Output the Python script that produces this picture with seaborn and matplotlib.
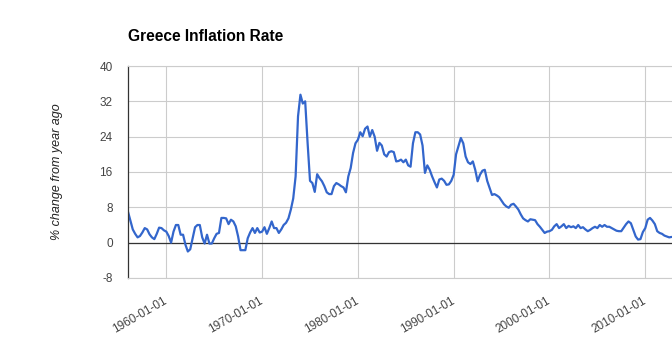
import pandas as pd
import matplotlib
matplotlib.use("Agg")
import matplotlib.pyplot as plt
import matplotlib.transforms as mtransforms
import seaborn as sns

# Quarterly year-over-year CPI change (%), grouped by decade
infl_1950s = [7.0, 5.0, 3.0, 2.0,
              1.2, 1.5, 2.3, 3.3,
              3.0, 1.9, 1.2, 0.8,
              2.0, 3.4, 3.3, 2.8]
infl_1960s = [2.5, 1.5, 0.0, 2.5,
              4.0, 4.0, 1.8, 1.8,
              -0.5, -2.0, -1.5, 1.0,
              3.5, 4.0, 4.0, 1.2,
              -0.2, 1.8, -0.2, -0.2,
              1.0, 2.0, 2.2, 5.6,
              5.6, 5.5, 4.2, 5.2,
              4.8, 3.7, 1.4, -1.7,
              -1.7, -1.7, 1.0, 2.3,
              3.3, 2.2, 3.3, 2.3]
infl_1970s = [2.5, 3.5, 2.0, 3.3,
              4.8, 3.3, 3.3, 2.2,
              3.0, 4.0, 4.5, 5.5,
              7.5, 10.0, 15.0, 28.6,
              33.5, 31.5, 32.0, 22.6,
              14.0, 13.5, 11.5, 15.5,
              14.6, 13.9, 12.8, 11.4,
              11.0, 11.0, 12.8, 13.5,
              13.2, 12.8, 12.5, 11.4,
              15.0, 16.9, 20.3, 22.5]
infl_1980s = [23.3, 25.0, 24.1, 25.8,
              26.3, 24.0, 25.5, 24.0,
              20.8, 22.6, 22.0, 20.0,
              19.5, 20.5, 20.7, 20.5,
              18.4, 18.5, 18.8, 18.2,
              18.8, 17.5, 17.2, 22.5,
              25.0, 25.0, 24.5, 22.0,
              15.8, 17.5, 16.5, 15.0,
              13.7, 12.5, 14.3, 14.5,
              14.0, 13.1, 13.2, 14.0]
infl_1990s = [15.4, 20.0, 21.8, 23.7,
              22.5, 19.5, 18.2, 17.8,
              18.4, 16.5, 13.9, 15.4,
              16.3, 16.5, 14.0, 12.4,
              10.8, 11.0, 10.7, 10.3,
              9.5, 8.7, 8.2, 7.9,
              8.6, 8.8, 8.2, 7.5,
              6.4, 5.5, 5.1, 4.8,
              5.3, 5.2, 5.1, 4.2,
              3.6, 2.9, 2.2, 2.5]
infl_2000s = [2.6, 2.9, 3.7, 4.2,
              3.3, 3.7, 4.2, 3.3,
              3.8, 3.5, 3.7, 3.3,
              4.0, 3.3, 3.5, 3.0,
              2.6, 2.9, 3.3, 3.6,
              3.3, 4.0, 3.6, 4.0,
              3.6, 3.6, 3.3, 3.0,
              2.7, 2.6, 2.6, 3.4,
              4.2, 4.8, 4.4, 2.9,
              1.4, 0.7, 0.8, 2.4]
infl_2010s = [3.3, 5.2, 5.6, 5.0,
              4.2, 2.6, 2.2, 2.0,
              1.6, 1.4, 1.2, 1.3]

tick_labels = ["1960-01-01", "1970-01-01", "1980-01-01",
               "1990-01-01", "2000-01-01", "2010-01-01"]
y_ticks = [-8, 0, 8, 16, 24, 32, 40]

values = infl_1950s + infl_1960s + infl_1970s + infl_1980s + infl_1990s + infl_2000s + infl_2010s
dates = pd.date_range("1956-01-01", periods=len(values), freq="QS")
df = pd.DataFrame({"date": dates, "inflation": values})

sns.set_theme(style="white")
plt.rcParams["font.family"] = ["Liberation Sans", "DejaVu Sans"]

W, H = 672, 344
fig = plt.figure(figsize=(W / 100, H / 100), dpi=100)
ax = fig.add_axes([128 / W, 66 / H, 544 / W, 212 / H])

sns.lineplot(data=df, x="date", y="inflation", ax=ax, color="#3366CC", linewidth=1.6)

ax.set_xlim(pd.Timestamp("1956-01-01"), pd.Timestamp("2012-10-16"))
ax.set_ylim(-8, 40)
ax.set_yticks(y_ticks)
ax.set_yticklabels([str(v) for v in y_ticks])
ax.set_xticks([pd.Timestamp(t) for t in tick_labels])
ax.set_xticklabels(tick_labels, rotation=30, ha="right", rotation_mode="anchor")

ax.grid(True, color="#cccccc", linewidth=0.8)
ax.axhline(0, color="#333333", linewidth=0.9, zorder=1.5)

for side in ("top", "bottom"):
    ax.spines[side].set_color("#cccccc")
    ax.spines[side].set_linewidth(0.8)
ax.spines["right"].set_visible(False)
ax.spines["left"].set_color("#333333")
ax.spines["left"].set_linewidth(0.9)

ax.tick_params(length=0, labelsize=8.5, labelcolor="#444444")
ax.tick_params(axis="x", pad=12)
ax.tick_params(axis="y", pad=11)

shift = mtransforms.ScaledTranslation(-3 / 100, 0, fig.dpi_scale_trans)
for lbl in ax.get_xticklabels():
    lbl.set_transform(lbl.get_transform() + shift)

ax.set_xlabel("")
ax.set_ylabel("% change from year ago", fontstyle="italic", fontsize=9, color="#222222")
ax.yaxis.set_label_coords((63 - 128) / 544, 0.5)

fig.text(128 / W, 1 - 41 / H, "Greece Inflation Rate", fontweight="bold",
         fontsize=11.2, va="baseline", ha="left", color="#000000")

fig.savefig("out.png", dpi=100)
